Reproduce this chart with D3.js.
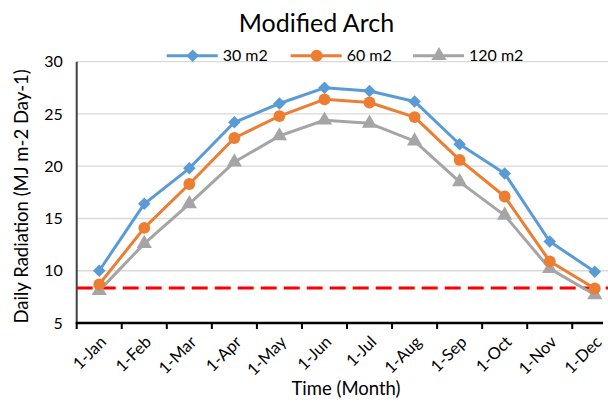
<!DOCTYPE html>
<html>
<head>
<meta charset="utf-8">
<script src="https://cdn.jsdelivr.net/npm/d3@7"></script>
<style>
  html, body { margin: 0; padding: 0; background: #fff; }
  svg { display: block; font-family: Lato, "Open Sans", sans-serif; }
</style>
</head>
<body>
<svg id="chart" width="608" height="402"></svg>
<script>
// Monthly daily radiation for three floor areas
const months = ["1-Jan","1-Feb","1-Mar","1-Apr","1-May","1-Jun","1-Jul","1-Aug","1-Sep","1-Oct","1-Nov","1-Dec"];
const area30  = [10.0, 16.4, 19.8, 24.2, 26.0, 27.5, 27.2, 26.2, 22.1, 19.3, 12.8, 9.9];
const area60  = [8.7, 14.1, 18.3, 22.7, 24.8, 26.4, 26.1, 24.7, 20.6, 17.1, 10.9, 8.3];
const area120 = [8.1, 12.6, 16.4, 20.4, 22.9, 24.4, 24.1, 22.4, 18.5, 15.3, 10.2, 7.7];
const threshold = 8.35;
const yTicks = [5, 10, 15, 20, 25, 30];

const series = [
  { name: "30 m2",  values: area30,  color: "#5B9BD5", marker: d3.symbolDiamond2 },
  { name: "60 m2",  values: area60,  color: "#ED7D31", marker: d3.symbolCircle },
  { name: "120 m2", values: area120, color: "#A5A5A5", marker: d3.symbolTriangle }
];

const svg = d3.select("#chart");
const plot = { left: 76.7, right: 617.3, top: 61.7, bottom: 323, axisEnd: 603 };

const x = d3.scaleBand().domain(months).range([plot.left, plot.right]).paddingInner(0).paddingOuter(0);
const y = d3.scaleLinear().domain([5, 30]).range([plot.bottom, plot.top]);
const cx = m => x(m) + x.bandwidth() / 2;

// horizontal gridlines
svg.append("g")
  .selectAll("line")
  .data(yTicks.filter(t => t > 5))
  .join("line")
  .attr("x1", plot.left).attr("x2", 608)
  .attr("y1", d => y(d)).attr("y2", d => y(d))
  .attr("stroke", "#D9D9D9").attr("stroke-width", 1.3);

// y axis labels
const yAxis = d3.axisLeft(y).tickValues(yTicks).tickSize(0).tickPadding(14);
const gy = svg.append("g").attr("transform", `translate(${plot.left},0)`).call(yAxis);
gy.select(".domain").remove();
gy.selectAll("text").attr("font-size", 16).attr("fill", "#000").attr("font-family", "Lato, sans-serif");

// y axis line
svg.append("line")
  .attr("x1", plot.left).attr("x2", plot.left)
  .attr("y1", y(30)).attr("y2", y(5))
  .attr("stroke", "#404040").attr("stroke-width", 2);

// x axis: line, tick marks between categories, rotated labels
svg.append("line")
  .attr("x1", plot.left - 1).attr("x2", plot.axisEnd)
  .attr("y1", plot.bottom).attr("y2", plot.bottom)
  .attr("stroke", "#000").attr("stroke-width", 2.6);

svg.append("g")
  .selectAll("line")
  .data(months)
  .join("line")
  .attr("x1", d => x(d)).attr("x2", d => x(d))
  .attr("y1", plot.bottom).attr("y2", plot.bottom + 6)
  .attr("stroke", "#000").attr("stroke-width", 2);

svg.append("g")
  .selectAll("text")
  .data(months)
  .join("text")
  .attr("transform", d => `translate(${cx(d) + 4},${plot.bottom + 16}) rotate(-45)`)
  .attr("text-anchor", "end")
  .attr("dy", "0.35em")
  .attr("font-size", 16.5)
  .text(d => d);

// reference threshold
svg.append("line")
  .attr("x1", plot.left).attr("x2", 608)
  .attr("y1", y(threshold)).attr("y2", y(threshold))
  .attr("stroke", "#FF0000").attr("stroke-width", 3)
  .attr("stroke-dasharray", "16,7");

// series lines and markers
const line = d3.line().x((d, i) => cx(months[i])).y(d => y(d));
series.slice().reverse().forEach(s => {
  svg.append("path")
    .datum(s.values)
    .attr("d", line)
    .attr("fill", "none")
    .attr("stroke", s.color)
    .attr("stroke-width", 3)
    .attr("stroke-linejoin", "round");
  svg.append("g")
    .selectAll("path")
    .data(s.values)
    .join("path")
    .attr("transform", (d, i) => `translate(${cx(months[i])},${y(d)})`)
    .attr("d", d3.symbol().type(s.marker).size(s.marker === d3.symbolCircle ? 110 : 100))
    .attr("fill", s.color);
});

// title
svg.append("text")
  .attr("x", 316.5).attr("y", 31.5)
  .attr("text-anchor", "middle")
  .attr("font-size", 25)
  .text("Modified Arch");

// legend
const legendX = [166.7, 290.7, 413];
const legendY = 55.7;
series.forEach((s, i) => {
  const g = svg.append("g").attr("transform", `translate(${legendX[i]},${legendY})`);
  g.append("line").attr("x1", 0).attr("x2", 51).attr("y1", 0).attr("y2", 0)
    .attr("stroke", s.color).attr("stroke-width", 3);
  g.append("path").attr("transform", "translate(26,0)")
    .attr("d", d3.symbol().type(s.marker).size(s.marker === d3.symbolCircle ? 110 : 100))
    .attr("fill", s.color);
  g.append("text").attr("x", 56).attr("y", 0).attr("dy", "0.35em")
    .attr("font-size", 16).text(s.name);
});

// axis titles
svg.append("text")
  .attr("transform", `translate(22,${(y(5) + y(30)) / 2 + 4}) rotate(-90)`)
  .attr("text-anchor", "middle")
  .attr("dy", "0.35em")
  .attr("font-size", 18.5)
  .text("Daily Radiation (MJ m-2 Day-1)");

svg.append("text")
  .attr("x", 346).attr("y", 389)
  .attr("text-anchor", "middle")
  .attr("dy", "0.35em")
  .attr("font-size", 18.5)
  .text("Time (Month)");
</script>
</body>
</html>
